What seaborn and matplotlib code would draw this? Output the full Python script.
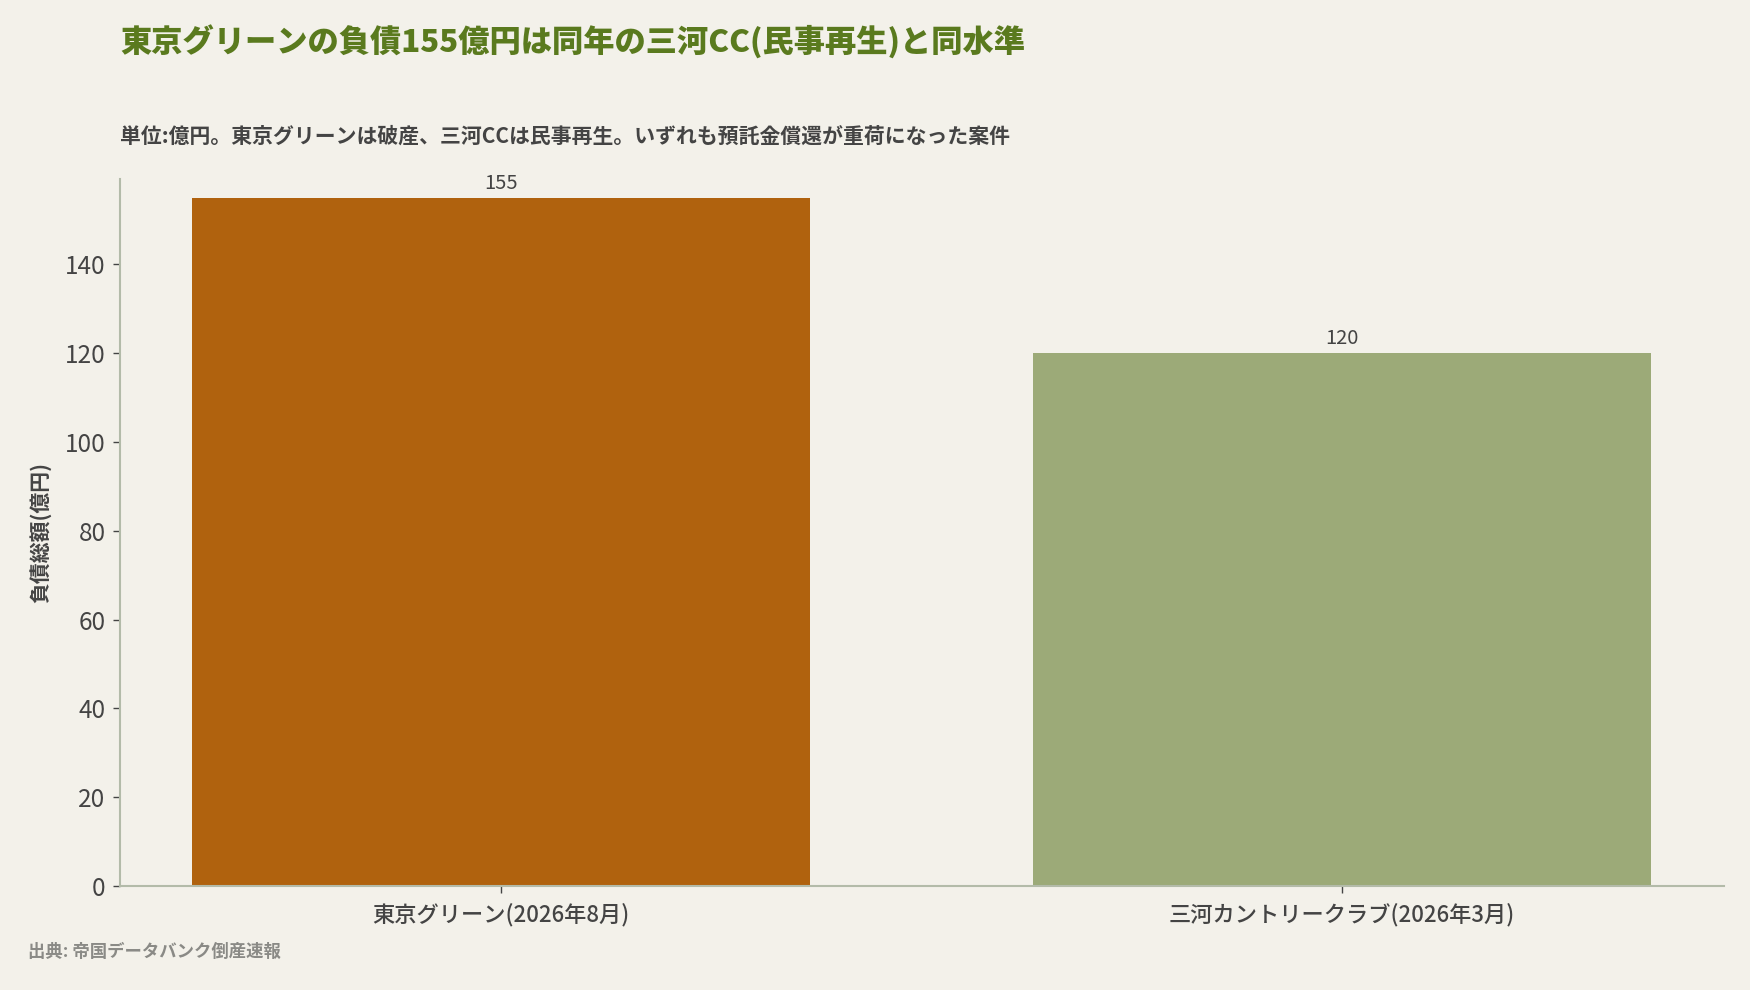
import matplotlib
matplotlib.use("Agg")
import matplotlib.pyplot as plt
import seaborn as sns
import pandas as pd

# データ
companies = ["東京グリーン(2026年8月)", "三河カントリークラブ(2026年3月)"]
debt = [155, 120]
bar_colors = ["#b0620e", "#9caa78"]

title = "東京グリーンの負債155億円は同年の三河CC(民事再生)と同水準"
subtitle = "単位:億円。東京グリーンは破産、三河CCは民事再生。いずれも預託金償還が重荷になった案件"
ylabel = "負債総額(億円)"
source = "出典: 帝国データバンク倒産速報"

bg = "#f3f1ea"
text_dark = "#444444"

sns.set_theme(style="white")
plt.rcParams['font.family'] = ['Noto Sans CJK JP', 'DejaVu Sans']

df = pd.DataFrame({"company": companies, "debt": debt})

fig = plt.figure(figsize=(17.5, 9.9), dpi=100, facecolor=bg)
ax = fig.add_axes([0.0683, 0.105, 0.9167, 0.7146])
ax.set_facecolor(bg)

sns.barplot(data=df, x="company", y="debt", hue="company",
            palette=bar_colors, legend=False, width=0.735,
            saturation=1, linewidth=0, edgecolor="none", ax=ax)

for c in ax.containers:
  ax.bar_label(c, fmt="%d", padding=3, fontsize=14.5, color=text_dark)

ax.set_xlim(-0.454, 1.454)
ax.set_ylim(0, 159.3)
ax.set_xlabel("")
ax.set_ylabel(ylabel, fontsize=15, fontweight="bold", color=text_dark, labelpad=10)

sns.despine(ax=ax)
for s in ["left", "bottom"]:
  ax.spines[s].set_color("#b3bba9")
  ax.spines[s].set_linewidth(1.5)

ax.tick_params(axis="y", labelsize=17.5, colors=text_dark, length=5, width=1, left=True, pad=5)
ax.tick_params(axis="x", labelsize=16, colors=text_dark, length=5, width=1, bottom=True, pad=7)
for lbl in ax.get_xticklabels():
  lbl.set_fontweight("medium")

# タイトルと注記
fig.text(0.0686, 0.958, title, fontsize=22.5, fontweight="heavy", color="#5a7a1e",
         ha="left", va="center")
fig.text(0.0686, 0.862, subtitle, fontsize=15, fontweight="bold", color=text_dark,
         ha="left", va="center")
fig.text(0.016, 0.038, source, fontsize=12.5, fontweight="bold", color="#8a8a86",
         ha="left", va="center")

fig.savefig("out.png", dpi=100, facecolor=bg)
